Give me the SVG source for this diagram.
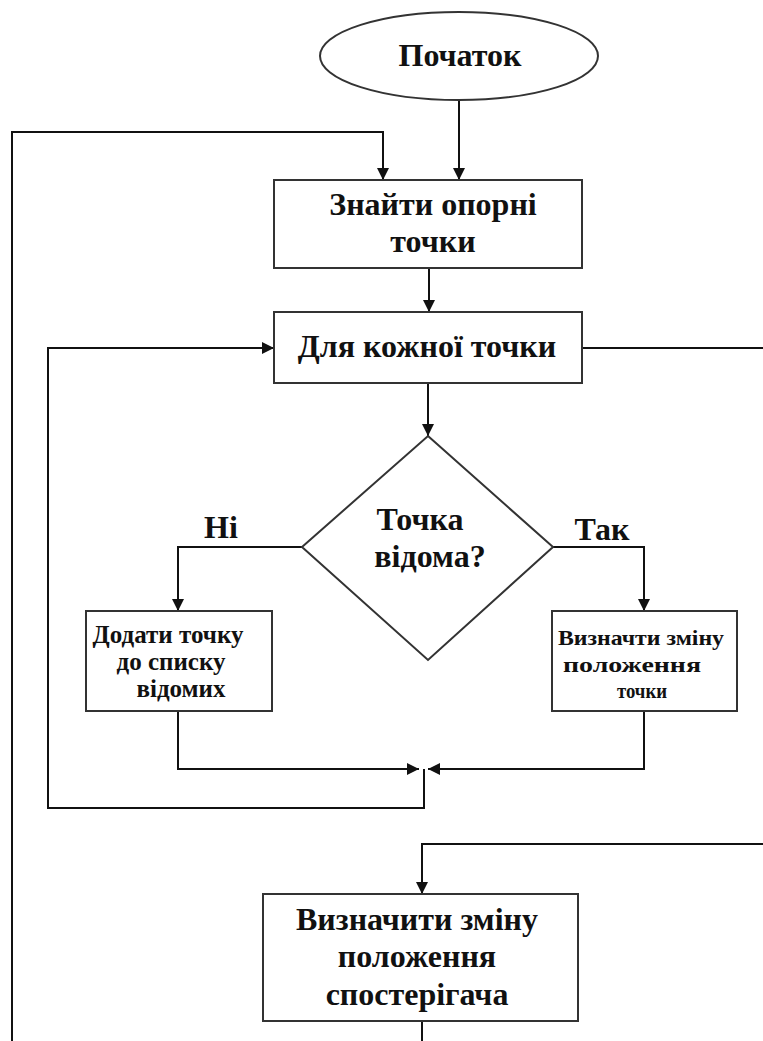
<svg xmlns="http://www.w3.org/2000/svg" width="763" height="1041" viewBox="0 0 763 1041">
  <style>
    .shape { fill: #ffffff; stroke: #333333; stroke-width: 2; }
    .line { fill: none; stroke: #111111; stroke-width: 2; }
    .t { font-family: "Liberation Serif", "Times New Roman", serif; font-weight: bold; fill: #111111; text-anchor: middle; }
    .big { font-size: 32px; }
    .mid { font-size: 25px; }
    .small { font-size: 21px; }
  </style>
  <defs>
    <marker id="arrow" viewBox="0 0 12 12" refX="12" refY="6" markerWidth="12" markerHeight="12" markerUnits="userSpaceOnUse" orient="auto">
      <path d="M0,0 L12,6 L0,12 Z" fill="#111111"/>
    </marker>
  </defs>
  <rect width="763" height="1041" fill="#ffffff"/>

  <!-- connectors -->
  <g id="connectors">
    <line class="line" x1="459" y1="100" x2="459" y2="180" marker-end="url(#arrow)"/>
    <polyline class="line" points="12,1041 12,132 383,132 383,180" marker-end="url(#arrow)"/>
    <line class="line" x1="429" y1="268" x2="429" y2="312" marker-end="url(#arrow)"/>
    <line class="line" x1="428" y1="383" x2="428" y2="436" marker-end="url(#arrow)"/>
    <line class="line" x1="582" y1="348" x2="763" y2="348"/>
    <polyline class="line" points="302,547 178,547 178,611" marker-end="url(#arrow)"/>
    <polyline class="line" points="553,547 644,547 644,611" marker-end="url(#arrow)"/>
    <polyline class="line" points="178,711 178,769 419,769" marker-end="url(#arrow)"/>
    <polyline class="line" points="644,711 644,769 428,769" marker-end="url(#arrow)"/>
    <polyline class="line" points="424,769 424,808 48,808 48,348 274,348" marker-end="url(#arrow)"/>
    <polyline class="line" points="763,844 422,844 422,894" marker-end="url(#arrow)"/>
    <line class="line" x1="422" y1="1021" x2="422" y2="1041"/>
  </g>

  <!-- start -->
  <g id="start">
    <ellipse class="shape" cx="459" cy="56" rx="139" ry="44"/>
    <text class="t big" x="460" y="66">Початок</text>
  </g>

  <!-- find anchor points -->
  <g id="find-points">
    <rect class="shape" x="274" y="180" width="308" height="88"/>
    <text class="t big" x="433" y="215">Знайти опорні</text>
    <text class="t big" x="433" y="252">точки</text>
  </g>

  <!-- loop over points -->
  <g id="for-each">
    <rect class="shape" x="274" y="312" width="308" height="71"/>
    <text class="t big" x="427" y="357">Для кожної точки</text>
  </g>

  <!-- decision -->
  <g id="decision">
    <polygon class="shape" points="428,436 553,547 428,660 302,547"/>
    <text class="t big" x="420" y="530">Точка</text>
    <text class="t big" x="430" y="567">відома?</text>
  </g>

  <!-- branch labels -->
  <g id="labels">
    <text class="t big" x="221" y="538">Ні</text>
    <text class="t big" x="602" y="540">Так</text>
  </g>

  <!-- add to known list -->
  <g id="add-point">
    <rect class="shape" x="86" y="611" width="186" height="100"/>
    <text class="t mid" x="168" y="643">Додати точку</text>
    <text class="t mid" x="171" y="670">до списку</text>
    <text class="t mid" x="181" y="697">відомих</text>
  </g>

  <!-- point displacement -->
  <g id="point-shift">
    <rect class="shape" x="552" y="611" width="185" height="100"/>
    <text class="t small" x="641" y="645" textLength="166" lengthAdjust="spacingAndGlyphs">Визначти зміну</text>
    <text class="t small" x="632" y="672" textLength="138" lengthAdjust="spacingAndGlyphs">положення</text>
    <text class="t small" x="642" y="698" textLength="50" lengthAdjust="spacingAndGlyphs">точки</text>
  </g>

  <!-- observer displacement -->
  <g id="observer-shift">
    <rect class="shape" x="263" y="894" width="315" height="127"/>
    <text class="t big" x="417" y="930">Визначити зміну</text>
    <text class="t big" x="417" y="967">положення</text>
    <text class="t big" x="417" y="1005">спостерігача</text>
  </g>
</svg>
